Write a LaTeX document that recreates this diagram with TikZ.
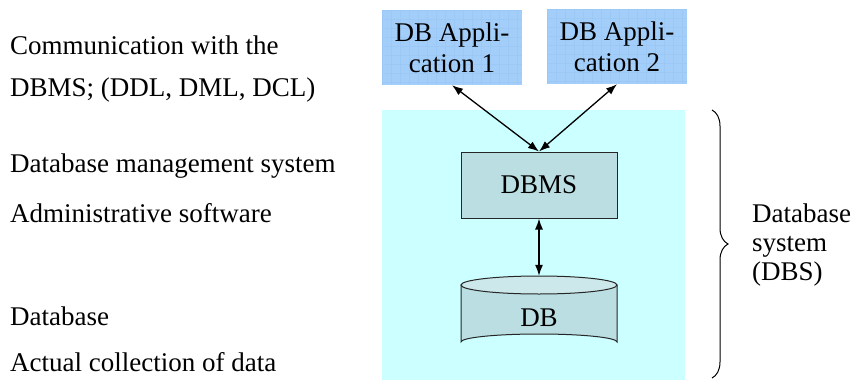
\documentclass[tikz,border=0pt]{standalone}
\usepackage{fontspec}
\setmainfont{Liberation Serif}
\usetikzlibrary{arrows.meta,decorations.pathreplacing}
\definecolor{appblue}{RGB}{164,206,250}
\definecolor{appgrid}{RGB}{156,200,246}
\definecolor{syscyan}{RGB}{204,255,255}
\definecolor{boxteal}{RGB}{186,222,226}
\definecolor{topteal}{RGB}{204,232,234}
\tikzset{
  txt/.style={font=\fontsize{27}{32}\selectfont, inner sep=0pt},
  lefttxt/.style={txt, anchor=west},
  appbox/.style={txt, minimum width=140pt, minimum height=75pt, align=center},
  dbmsbox/.style={txt, draw=black!85, line width=1pt, fill=boxteal, minimum width=156pt, minimum height=66pt},
  link/.style={line width=1.3pt, {Latex[length=11pt,width=8pt]}-{Latex[length=11pt,width=8pt]}}
}
\begin{document}
\begin{tikzpicture}[x=1pt,y=-1pt]
\useasboundingbox (0,0) rectangle (854,380);

% left-hand descriptions
\node[lefttxt] (l1) at (10,45) {Communication with the};
\node[lefttxt] (l2) at (10,90) {DBMS; (DDL, DML, DCL)};
\node[lefttxt] (l3) at (10,166) {Database management system};
\node[lefttxt] (l4) at (10,213) {Administrative software};
\node[lefttxt] (l5) at (10,316) {Database};
\node[lefttxt] (l6) at (10,362) {Actual collection of data};

% database system area
\fill[syscyan] (382,110) rectangle (685,380);

% application boxes with a faint grid texture
\foreach \x/\y in {382/10, 547/9} {
  \fill[appblue] (\x,\y) rectangle ++(140,75);
  \begin{scope}
    \clip (\x,\y) rectangle ++(140,75);
    \foreach \k in {0,...,16} {
      \draw[appgrid, line width=0.4pt] (\x+\k*9,\y) -- ++(0,75);
      \draw[appgrid, line width=0.4pt] (\x,\y+\k*9) -- ++(140,0);
    }
  \end{scope}
}
\node[appbox] (app1) at (452,47.5) {DB Appli-\\[-1pt]cation 1};
\node[appbox] (app2) at (617,46.5) {DB Appli-\\[-1pt]cation 2};

% DBMS
\node[dbmsbox] (dbms) at (539,185) {DBMS};

% DB cylinder
\begin{scope}[draw=black!85, line width=1pt]
  \filldraw[fill=boxteal] (461,285) -- (461,342) arc[start angle=180, end angle=360, x radius=78, y radius=8] -- (617,285) -- cycle;
  \filldraw[fill=topteal] (539,285) ellipse[x radius=78, y radius=9];
\end{scope}
\node[txt, minimum width=156pt, minimum height=74pt] (db) at (539,313) {};
\node[txt] (dblabel) at (539,318) {DB};

% connectors
\draw[link] (app1.south) -- (dbms.north);
\draw[link] (app2.south) -- (dbms.north);
\draw[link] (dbms.south) -- (db.north);

% brace and label
\coordinate (bt) at (712,110);
\coordinate (bb) at (712,378);
\draw[line width=1pt, decorate, decoration={brace, amplitude=16pt, aspect=0.5}] (bt) -- (bb);
\node[txt, anchor=west, align=left] (dbs) at (752,245) {Database\\[-3pt]system\\[-3pt](DBS)};
\end{tikzpicture}
\end{document}
